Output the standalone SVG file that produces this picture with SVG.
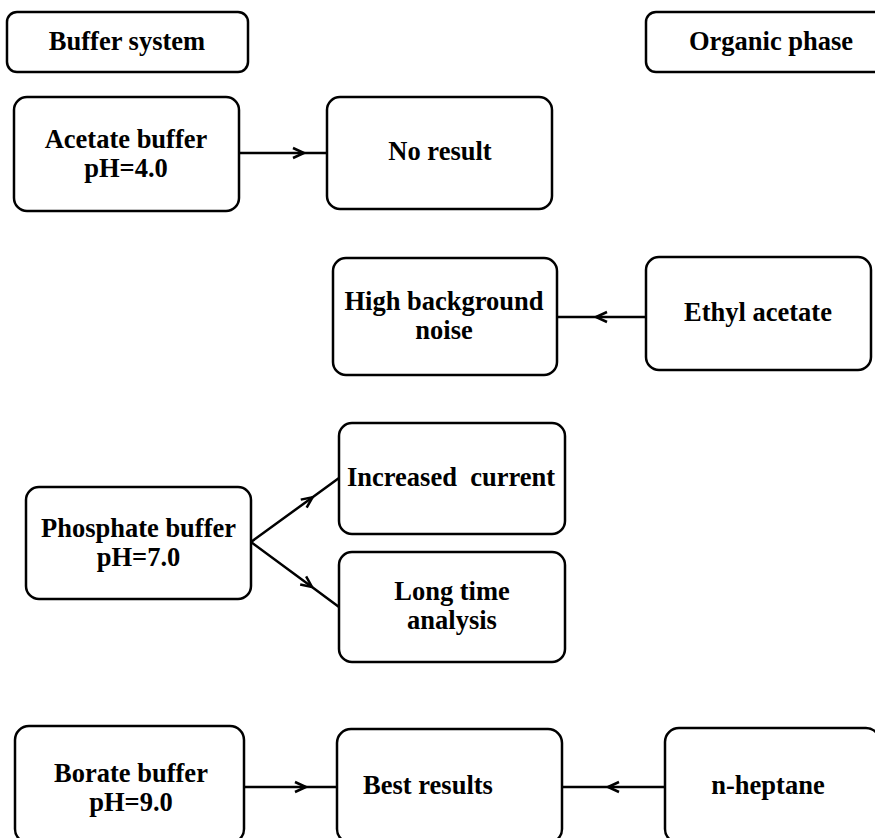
<svg xmlns="http://www.w3.org/2000/svg" width="875" height="838" viewBox="0 0 875 838">
<defs>
<style>
.box{fill:#fff;stroke:#000;stroke-width:2.5}
.t{font-family:"Liberation Serif","Times New Roman",serif;font-weight:bold;font-size:26.5px;fill:#000;text-anchor:middle}
.c{fill:none;stroke:#000;stroke-width:2.5}
</style>
<marker id="chev" viewBox="-13 -7 15 14" refX="0" refY="0" markerWidth="15" markerHeight="14" markerUnits="userSpaceOnUse" orient="auto" overflow="visible">
<path d="M-11,-5 L0,0 L-11,5" fill="none" stroke="#000" stroke-width="2.5"/>
</marker>
</defs>
<rect width="875" height="838" fill="#fff"/>
<g id="connectors">
<path class="c" d="M239,153 L304,153 L327,153" marker-mid="url(#chev)"/>
<path class="c" d="M646,317 L596,317 L557,317" marker-mid="url(#chev)"/>
<path class="c" d="M251,542 L312.6,497.2 L339,478" marker-mid="url(#chev)"/>
<path class="c" d="M251,542 L312,587 L339,607" marker-mid="url(#chev)"/>
<path class="c" d="M244,787 L306,787 L337,787" marker-mid="url(#chev)"/>
<path class="c" d="M665,787 L608,787 L562,787" marker-mid="url(#chev)"/>
</g>
<g id="buffer-system">
<rect class="box" x="7" y="12" width="241" height="60" rx="10"/>
<text class="t" x="127" y="50">Buffer system</text>
</g>
<g id="organic-phase">
<rect class="box" x="646" y="12" width="250" height="60" rx="10"/>
<text class="t" x="771" y="50">Organic phase</text>
</g>
<g id="acetate-buffer">
<rect class="box" x="14" y="97" width="225" height="114" rx="13"/>
<text class="t" x="126" y="148">Acetate buffer</text>
<text class="t" x="126" y="177">pH=4.0</text>
</g>
<g id="no-result">
<rect class="box" x="327" y="97" width="225" height="112" rx="13"/>
<text class="t" x="440" y="160">No result</text>
</g>
<g id="high-background-noise">
<rect class="box" x="333" y="258" width="224" height="117" rx="13"/>
<text class="t" x="444" y="310">High background</text>
<text class="t" x="444" y="339">noise</text>
</g>
<g id="ethyl-acetate">
<rect class="box" x="646" y="257" width="225" height="113" rx="13"/>
<text class="t" x="758" y="321">Ethyl acetate</text>
</g>
<g id="phosphate-buffer">
<rect class="box" x="26" y="487" width="225" height="112" rx="13"/>
<text class="t" x="138.5" y="537">Phosphate buffer</text>
<text class="t" x="138.5" y="566">pH=7.0</text>
</g>
<g id="increased-current">
<rect class="box" x="339" y="423" width="226" height="111" rx="13"/>
<text class="t" x="451" y="486" style="white-space:pre">Increased  current</text>
</g>
<g id="long-time-analysis">
<rect class="box" x="339" y="552" width="226" height="110" rx="13"/>
<text class="t" x="452" y="600">Long time</text>
<text class="t" x="452" y="629">analysis</text>
</g>
<g id="borate-buffer">
<rect class="box" x="15" y="726" width="229" height="117" rx="14"/>
<text class="t" x="131" y="782">Borate buffer</text>
<text class="t" x="131" y="811">pH=9.0</text>
</g>
<g id="best-results">
<rect class="box" x="337" y="729" width="225" height="114" rx="14"/>
<text class="t" x="428" y="794">Best results</text>
</g>
<g id="n-heptane">
<rect class="box" x="665" y="728" width="215" height="115" rx="14"/>
<text class="t" x="768" y="794">n-heptane</text>
</g>
</svg>
